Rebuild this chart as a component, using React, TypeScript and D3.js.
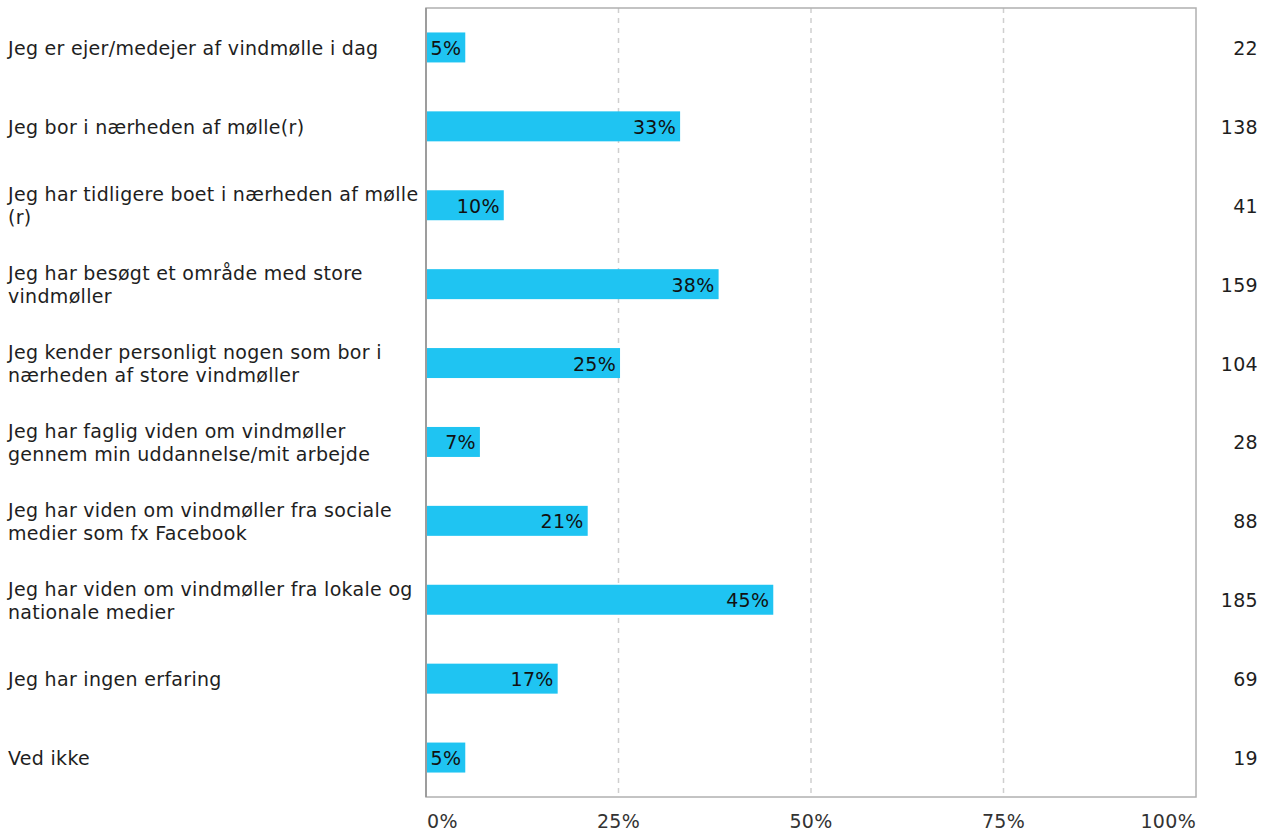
import React from "react";
import * as d3 from "d3";

const categories: string[] = [
  "Jeg er ejer/medejer af vindmølle i dag",
  "Jeg bor i nærheden af mølle(r)",
  "Jeg har tidligere boet i nærheden af mølle\n(r)",
  "Jeg har besøgt et område med store\nvindmøller",
  "Jeg kender personligt nogen som bor i\nnærheden af store vindmøller",
  "Jeg har faglig viden om vindmøller\ngennem min uddannelse/mit arbejde",
  "Jeg har viden om vindmøller fra sociale\nmedier som fx Facebook",
  "Jeg har viden om vindmøller fra lokale og\nnationale medier",
  "Jeg har ingen erfaring",
  "Ved ikke",
];
const percents: number[] = [5.1, 33, 10.1, 38, 25.2, 7, 21, 45.1, 17.1, 5.1];
const percentLabels: string[] = ["5%", "33%", "10%", "38%", "25%", "7%", "21%", "45%", "17%", "5%"];
const counts: number[] = [22, 138, 41, 159, 104, 28, 88, 185, 69, 19];
const ticks: number[] = [0, 25, 50, 75, 100];

const W = 1267;
const H = 832;
const left = 426;
const right = 1196;
const top = 8;
const bottom = 797;
const FONT = "'DejaVu Sans', Verdana, sans-serif";
const FS = 19;
const LS = 0.3;

export default function App() {
  const x = d3.scaleLinear().domain([0, 100]).range([left, right]);
  const y = d3
    .scaleBand<number>()
    .domain(d3.range(categories.length))
    .range([top, bottom])
    .paddingInner(0.62)
    .paddingOuter(0.31);
  const bw = y.bandwidth();
  const base = 7.5;

  return (
    <div style={{ position: "absolute", left: 0, top: 0 }}>
      <svg width={W} height={H} style={{ display: "block", background: "#fff" }} fontFamily={FONT} letterSpacing={LS}>
        {ticks.slice(1, -1).map((t) => (
          <line key={t} x1={x(t)} x2={x(t)} y1={top} y2={bottom} stroke="#cfcfcf" strokeWidth={1.5} strokeDasharray="5,5" />
        ))}
        <rect x={left} y={top} width={right - left} height={bottom - top} fill="none" stroke="#b0b0b0" strokeWidth={1.5} />
        <line x1={left} x2={left} y1={top} y2={bottom} stroke="#909090" strokeWidth={1.5} />
        {percents.map((v, i) => {
          const by = y(i)!;
          const cy = by + bw / 2;
          const lines = categories[i].split("\n");
          const lh = 23;
          return (
            <g key={i}>
              <rect x={x(0) + 1} y={by} width={x(v) - x(0) - 1} height={bw} fill="#1fc4f2" />
              <text x={x(v) - 4} y={cy + base} textAnchor="end" fontSize={FS} fill="#111">
                {percentLabels[i]}
              </text>
              <text x={1258} y={cy + base} textAnchor="end" fontSize={FS} fill="#1e1e1e">
                {counts[i]}
              </text>
              {lines.map((ln, k) => (
                <text key={k} x={8} y={cy + base + (k - (lines.length - 1) / 2) * lh} fontSize={FS} fill="#1e1e1e">
                  {ln}
                </text>
              ))}
            </g>
          );
        })}
        {ticks.map((t, i) => (
          <text
            key={t}
            x={i === 0 ? x(t) + 1 : x(t)}
            y={828}
            textAnchor={i === 0 ? "start" : i === ticks.length - 1 ? "end" : "middle"}
            fontSize={FS}
            fill="#333"
          >
            {t}%
          </text>
        ))}
      </svg>
    </div>
  );
}
